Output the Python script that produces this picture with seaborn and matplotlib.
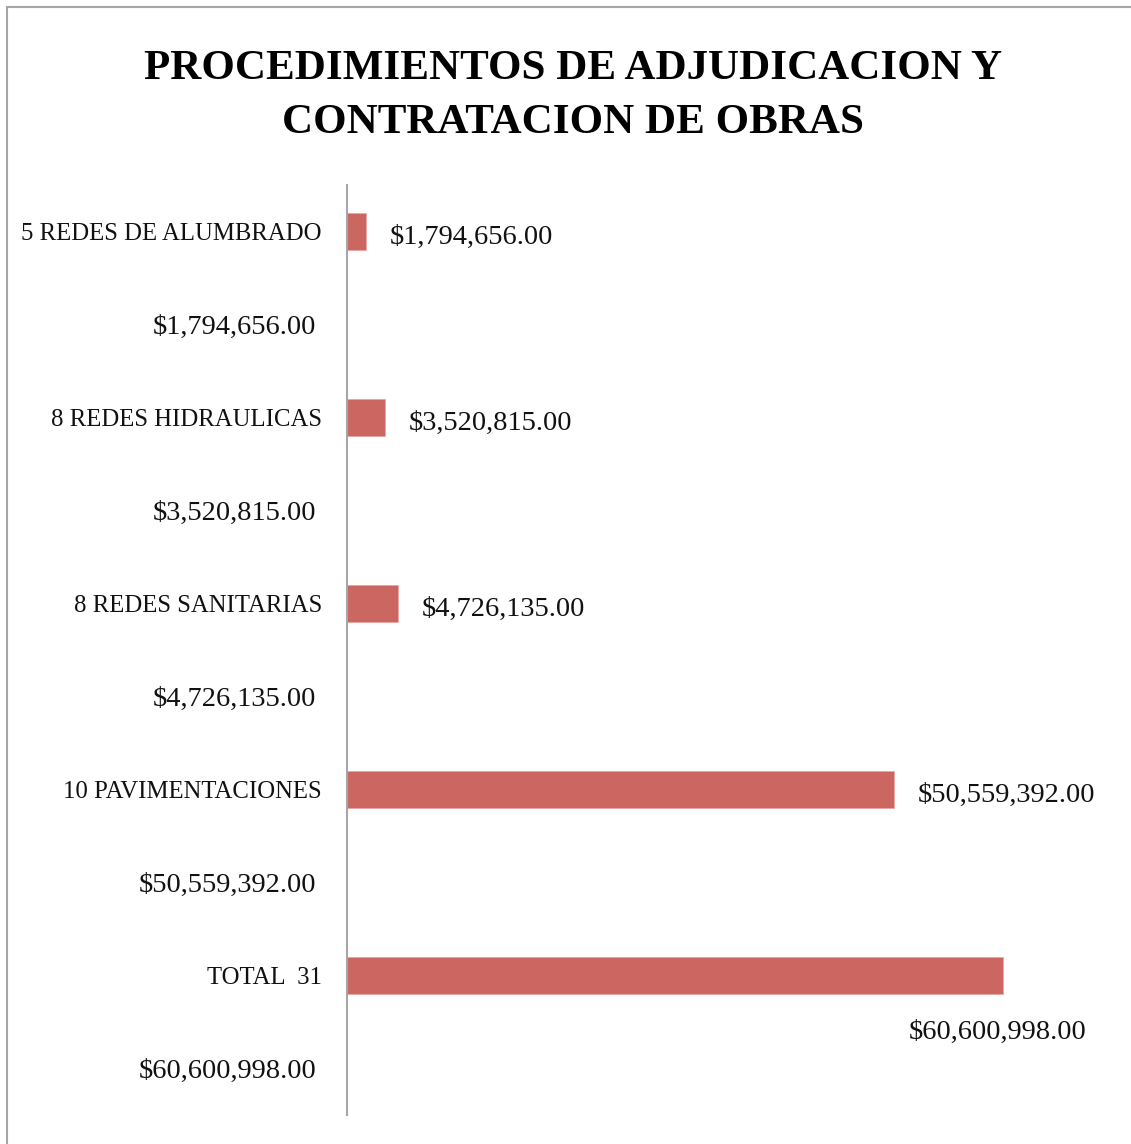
import numpy as np
import pandas as pd
import matplotlib
matplotlib.use("Agg")
import matplotlib.pyplot as plt
import seaborn as sns
from matplotlib.lines import Line2D

# chart data
categories = [
    "5 REDES DE ALUMBRADO", "$1,794,656.00",
    "8 REDES HIDRAULICAS", "$3,520,815.00",
    "8 REDES SANITARIAS", "$4,726,135.00",
    "10 PAVIMENTACIONES", "$50,559,392.00",
    "TOTAL  31", "$60,600,998.00",
]
values = [1794656, np.nan, 3520815, np.nan, 4726135, np.nan,
          50559392, np.nan, 60600998, np.nan]
value_labels = ["$1,794,656.00", "", "$3,520,815.00", "", "$4,726,135.00", "",
                "$50,559,392.00", "", "$60,600,998.00", ""]
title = "PROCEDIMIENTOS DE ADJUDICACION Y\nCONTRATACION DE OBRAS"

df = pd.DataFrame({"categoria": categories, "monto": values})

sns.set_theme(style="white")
plt.rcParams["font.family"] = ["Liberation Serif", "DejaVu Serif"]

fig = plt.figure(figsize=(11.31, 11.44), dpi=100)
ax = fig.add_axes([0.3068, 0.0254, 0.6746, 0.8129])

sns.barplot(data=df, y="categoria", x="monto", order=categories, orient="h",
            color="#CC6660", saturation=1, width=0.4, ax=ax,
            edgecolor="#E8A8A4", linewidth=0.6)

ax.set_xlim(0, 70.5e6)
ax.set_xlabel("")
ax.set_ylabel("")
ax.set_xticks([])
ax.tick_params(axis="y", length=0, labelcolor="#111111")

# money labels are set a bit larger and further from the axis than the names
for tick, lab in zip(ax.yaxis.get_major_ticks(), ax.get_yticklabels()):
    lab.set_va("center_baseline")
    if lab.get_text().startswith("$"):
        lab.set_fontsize(20.5)
        tick.set_pad(22)
    else:
        lab.set_fontsize(17.8)
        tick.set_pad(18)

for s in ["top", "right", "bottom"]:
    ax.spines[s].set_visible(False)
ax.spines["left"].set_color("#A6A6A6")
ax.spines["left"].set_linewidth(1.5)

# value labels
for i, (v, lab) in enumerate(zip(values, value_labels)):
    if not lab:
        continue
    if i == len(values) - 2:
        ax.annotate(lab, xy=(v, i), xytext=(-4, -41), textcoords="offset points",
                    ha="center", va="center", fontsize=20.5, color="#111111")
    else:
        ax.annotate(lab, xy=(v, i), xytext=(17, -4), textcoords="offset points",
                    ha="left", va="center", fontsize=20.5, color="#111111")

fig.text(0.5066, 0.9161, title, ha="center", va="center", fontsize=31,
         fontweight="bold", linespacing=1.55, color="black")

# outer border (left and top)
fig.add_artist(Line2D([0.0062, 0.0062], [0, 0.9939], transform=fig.transFigure,
                      color="#A6A6A6", linewidth=1.5))
fig.add_artist(Line2D([0.0062, 1.0], [0.9939, 0.9939], transform=fig.transFigure,
                      color="#A6A6A6", linewidth=1.5))

fig.savefig("out.png", dpi=100, facecolor="white")
